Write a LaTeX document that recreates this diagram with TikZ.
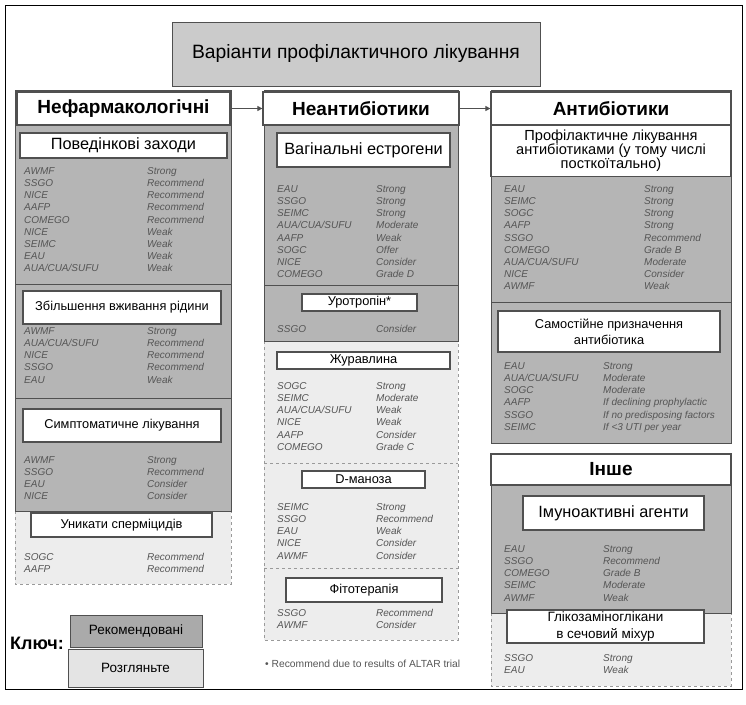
\documentclass[tikz,border=0pt]{standalone}
\usepackage{fontspec}
\setmainfont{Liberation Sans}
\usetikzlibrary{arrows.meta}
\usepackage{xcolor}
\definecolor{EdgeGray}{HTML}{505050}
\definecolor{DashGray}{HTML}{9A9A9A}
\definecolor{TitleGray}{HTML}{CBCBCB}
\definecolor{PanelDark}{HTML}{B5B5B5}
\definecolor{PanelLight}{HTML}{EDEDED}
\definecolor{KeyDark}{HTML}{AAAAAA}
\definecolor{KeyLight}{HTML}{E4E4E4}
\definecolor{EntryGray}{HTML}{555555}
\newcommand{\guidelist}[2]{\begin{tabular}[t]{@{}p{#1}@{}l@{}}#2\end{tabular}}
\tikzset{
    % Box styles - all sharp corners
    titlebox/.style={
        rectangle,
        draw=EdgeGray,
        fill=TitleGray,
        line width=1pt,
        font=\fontsize{19.3}{22}\selectfont
    },
    heading/.style={
        rectangle,
        draw=EdgeGray,
        fill=white,
        line width=1.2pt,
        align=center,
        font=\bfseries\fontsize{19}{22}\selectfont
    },
    option/.style={
        rectangle,
        draw=EdgeGray,
        fill=white,
        line width=1.5pt,
        inner sep=1pt,
        align=center,
        font=\fontsize{12.8}{15.7}\selectfont
    },
    bigoption/.style={
        option,
        font=\fontsize{16.3}{18}\selectfont
    },
    entries/.style={
        inner sep=0pt,
        anchor=base west,
        text=EntryGray,
        font=\fontsize{10}{12.1}\selectfont\itshape
    },
    keybox/.style={
        rectangle,
        draw=EdgeGray,
        line width=1pt,
        font=\fontsize{13.5}{15}\selectfont
    },
    % Panel styles
    recpanel/.style={
        draw=EdgeGray,
        fill=PanelDark,
        line width=0.8pt
    },
    conpanel/.style={
        draw=DashGray,
        fill=PanelLight,
        line width=0.8pt,
        dashed
    },
    divider/.style={
        draw=EdgeGray,
        line width=0.8pt
    },
    % Arrow styles - straight lines only
    arrow/.style={
        -{Triangle[length=5pt,width=5pt]},
        line width=0.8pt,
        draw=EdgeGray
    }
}

\begin{document}
\begin{tikzpicture}[x=1pt, y=-1pt]
    \useasboundingbox (0,0) rectangle (746,704);
    \draw[black, line width=1pt] (5,5) rectangle (742,689);

    % panels
    \draw[conpanel] (15,511) rectangle (231,584);
    \draw[recpanel] (15,90) rectangle (231,511);
    \draw[divider] (15,284) -- (231,284);
    \draw[divider] (15,398) -- (231,398);

    \draw[conpanel] (264,341) rectangle (458,640);
    \draw[conpanel] (264,463) -- (458,463);
    \draw[conpanel] (264,568) -- (458,568);
    \draw[recpanel] (264,90) rectangle (458,341);
    \draw[divider] (264,285) -- (458,285);

    \draw[recpanel] (491,90) rectangle (731,443);
    \draw[divider] (491,302) -- (731,302);
    \draw[conpanel] (491,613) rectangle (731,686);
    \draw[recpanel] (491,485) rectangle (731,613);

    % title and headings
    \node[titlebox, minimum width=368pt, minimum height=64pt] (options) at (356,54) {Варіанти профілактичного лікування};

    \node[heading, minimum width=213pt, minimum height=33pt] (nonpharm) at (123.5,108.5) {Нефармакологічні};
    \node[heading, minimum width=196pt, minimum height=33pt] (nonabx) at (361,108.5) {Неантибіотики};
    \node[heading, minimum width=240pt, minimum height=33pt] (abx) at (611,108.5) {Антибіотики};
    \node[heading, minimum width=240pt, minimum height=31pt] (other) at (611,469.5) {Інше};

    \draw[arrow] (nonpharm) -- (nonabx);
    \draw[arrow] (nonabx) -- (abx);

    % non-pharmacological
    \node[bigoption, minimum width=207pt, minimum height=25pt] (behaviour) at (123.5,145.5) {Поведінкові заходи};
    \node[entries] (behaviourlist) at (24,174.6) {\guidelist{123pt}{AWMF & Strong\\ SSGO & Recommend\\ NICE & Recommend\\ AAFP & Recommend\\ COMEGO & Recommend\\ NICE & Weak\\ SEIMC & Weak\\ EAU & Weak\\ AUA/CUA/SUFU & Weak}};

    \node[option, minimum width=198pt, minimum height=33pt] (fluids) at (122,307.5) {Збільшення вживання рідини};
    \node[entries] (fluidslist) at (24,334.6) {\guidelist{123pt}{AWMF & Strong\\ AUA/CUA/SUFU & Recommend\\ NICE & Recommend\\ SSGO & Recommend\\ EAU & Weak}};

    \node[option, minimum width=198pt, minimum height=33pt] (symptomatic) at (122,425.5) {Симптоматичне лікування};
    \node[entries] (symptomaticlist) at (24,463.6) {\guidelist{123pt}{AWMF & Strong\\ SSGO & Recommend\\ EAU & Consider\\ NICE & Consider}};

    \node[option, minimum width=181pt, minimum height=24pt] (spermicide) at (121.5,525) {Уникати сперміцидів};
    \node[entries] (spermicidelist) at (24,560.6) {\guidelist{123pt}{SOGC & Recommend\\ AAFP & Recommend}};

    % non-antibiotics
    \node[bigoption, minimum width=173pt, minimum height=34pt] (estrogen) at (363.5,150) {Вагінальні естрогени};
    \node[entries] (estrogenlist) at (277,192.6) {\guidelist{99pt}{EAU & Strong\\ SSGO & Strong\\ SEIMC & Strong\\ AUA/CUA/SUFU & Moderate\\ AAFP & Weak\\ SOGC & Offer\\ NICE & Consider\\ COMEGO & Grade D}};

    \node[option, minimum width=115pt, minimum height=17pt] (methenamine) at (359.5,302.5) {Уротропін*};
    \node[entries] (methenaminelist) at (277,332.6) {\guidelist{99pt}{SSGO & Consider}};

    \node[option, minimum width=173pt, minimum height=17pt] (cranberry) at (363.5,360.5) {Журавлина};
    \node[entries] (cranberrylist) at (277,389.6) {\guidelist{99pt}{SOGC & Strong\\ SEIMC & Moderate\\ AUA/CUA/SUFU & Weak\\ NICE & Weak\\ AAFP & Consider\\ COMEGO & Grade C}};

    \node[option, minimum width=123pt, minimum height=17pt] (mannose) at (363.5,479.5) {D-маноза};
    \node[entries] (mannoselist) at (277,510.6) {\guidelist{99pt}{SEIMC & Strong\\ SSGO & Recommend\\ EAU & Weak\\ NICE & Consider\\ AWMF & Consider}};

    \node[option, minimum width=156pt, minimum height=24pt] (herbal) at (364,590) {Фітотерапія};
    \node[entries] (herballist) at (277,616.6) {\guidelist{99pt}{SSGO & Recommend\\ AWMF & Consider}};

    \node[inner sep=0pt, anchor=west, text=EntryGray, font=\fontsize{10.3}{12}\selectfont] (altar) at (265,664) {• Recommend due to results of ALTAR trial};

    % antibiotics
    \node[option, font=\fontsize{14.6}{14.2}\selectfont, line width=1.2pt, minimum width=240pt, minimum height=51pt] (prophylaxis) at (611,151) {Профілактичне лікування\\ антибіотиками (у тому числі\\ посткоїтально)};
    \node[entries] (prophylaxislist) at (504,192.6) {\guidelist{140pt}{EAU & Strong\\ SEIMC & Strong\\ SOGC & Strong\\ AAFP & Strong\\ SSGO & Recommend\\ COMEGO & Grade B\\ AUA/CUA/SUFU & Moderate\\ NICE & Consider\\ AWMF & Weak}};

    \node[option, minimum width=222pt, minimum height=41pt] (selfstart) at (609,331.5) {Самостійне призначення\\ антибіотика};
    \node[entries] (selfstartlist) at (504,369.6) {\guidelist{99pt}{EAU & Strong\\ AUA/CUA/SUFU & Moderate\\ SOGC & Moderate\\ AAFP & If declining prophylactic\\ SSGO & If no predisposing factors\\ SEIMC & If <3 UTI per year}};

    % other
    \node[bigoption, minimum width=181pt, minimum height=34pt] (immuno) at (613.5,513) {Імуноактивні агенти};
    \node[entries] (immunolist) at (504,552.6) {\guidelist{99pt}{EAU & Strong\\ SSGO & Recommend\\ COMEGO & Grade B\\ SEIMC & Moderate\\ AWMF & Weak}};

    \node[option, font=\fontsize{13.5}{16.5}\selectfont, minimum width=197pt, minimum height=33pt] (gag) at (605.5,626.5) {Глікозаміноглікани\\ в сечовий міхур};
    \node[entries] (gaglist) at (504,661.6) {\guidelist{99pt}{SSGO & Strong\\ EAU & Weak}};

    % key
    \node[keybox, fill=KeyDark, minimum width=132pt, minimum height=32pt] (keyrec) at (136,631) {Рекомендовані};
    \node[keybox, fill=KeyLight, minimum width=135pt, minimum height=38pt] (keycons) at (135.5,668) {Розгляньте};
    \node[font=\bfseries\fontsize{18}{22}\selectfont, inner sep=0pt] (keylabel) at (37,643) {Ключ:};
\end{tikzpicture}
\end{document}
